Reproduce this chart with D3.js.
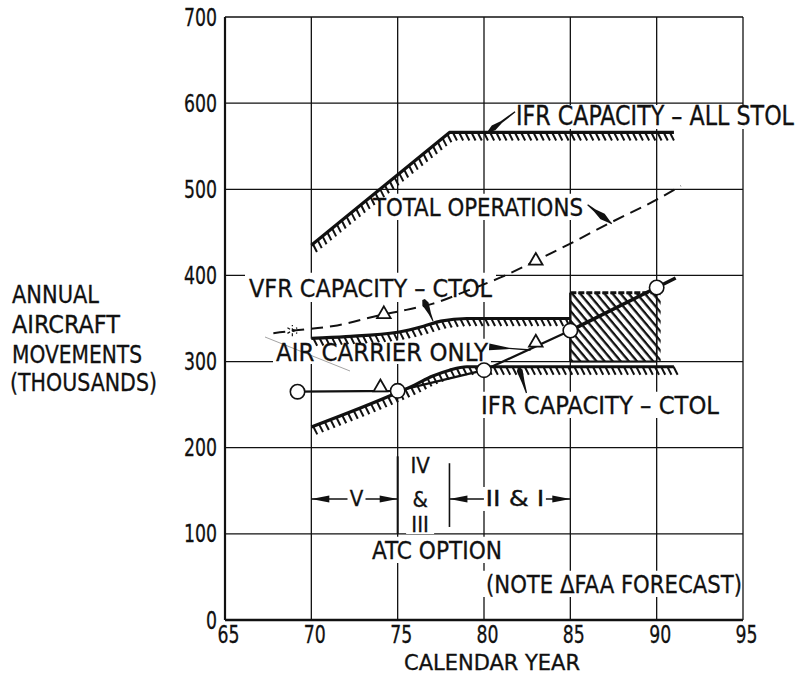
<!DOCTYPE html>
<html>
<head>
<meta charset="utf-8">
<script src="https://cdn.jsdelivr.net/npm/d3@7"></script>
<style>
html, body { margin: 0; padding: 0; background: #fff; }
svg { display: block; }
text { font-family: 'Liberation Sans Narrow', 'DejaVu Sans Condensed', 'Arial Narrow', sans-serif; fill: #111; stroke: #111; stroke-width: 0.3; }
</style>
</head>
<body>
<svg width="806" height="676"></svg>
<script>
// ---- data ----
var xTicks = [65, 70, 75, 80, 85, 90, 95];
var yTicks = [0, 100, 200, 300, 400, 500, 600, 700];

var ifrStolYears  = [70, 78, 91];
var ifrStolValues = [435, 566, 566];

var totalOpsYears  = [67.8, 69, 71.5, 74, 75.5, 77, 79, 81, 83, 85, 87.3, 90, 91.4];
var totalOpsValues = [333, 336, 342, 354, 360, 367, 382, 398, 417, 437, 461, 488, 504];

var vfrYears  = [70, 72, 75, 76.5, 77.5, 79, 85];
var vfrValues = [327, 329, 334, 341, 347, 350, 350];

var ifrCtolYears  = [70, 75, 76, 77, 78, 79, 91];
var ifrCtolValues = [224, 264, 273, 283, 290, 294, 294];

var boxYears  = [85, 90];
var boxValues = [300, 380];

var airCarrierYears  = [69.2, 75, 80, 85, 90, 91.1];
var airCarrierValues = [265, 266, 290, 336, 386, 397];
var airCarrierCircles = 5;

var faaYears  = [74, 83, 74.2, 83];
var faaValues = [270, 322, 355, 417];

var starYears = [68.9];
var starValues = [336];

var atcYears = [70, 75, 78, 85];

// ---- setup ----
var svg = d3.select("svg");
var x = d3.scaleLinear().domain([65, 95]).range([225, 743]);
var y = d3.scaleLinear().domain([0, 700]).range([620, 17]);

var gGrid = svg.append("g");
var gKnock = svg.append("g");
var gData = svg.append("g");
var gText = svg.append("g");

// grid
gGrid.selectAll(".vg").data(xTicks).join("line")
  .attr("x1", function(d) { return x(d); }).attr("x2", function(d) { return x(d); })
  .attr("y1", y(0)).attr("y2", y(700))
  .attr("stroke", "#111").attr("stroke-width", function(d) { return d == 65 ? 2.2 : 1.3; });
gGrid.selectAll(".hg").data(yTicks).join("line")
  .attr("x1", x(65)).attr("x2", x(95))
  .attr("y1", function(d) { return y(d); }).attr("y2", function(d) { return y(d); })
  .attr("stroke", "#111").attr("stroke-width", function(d) { return d == 0 ? 2.4 : 1.3; });

// axes labels
var xAxis = d3.axisBottom(x).tickValues(xTicks).tickSize(0).tickPadding(6);
var gx = svg.append("g").attr("transform", "translate(0," + y(0) + ")").call(xAxis);
gx.select(".domain").remove();
gx.selectAll("text").attr("font-size", 24).attr("dx", 3)
  .attr("textLength", function(d) { return String(d).length * 11; }).attr("lengthAdjust", "spacingAndGlyphs")
  .style("font-family", "'Liberation Sans Narrow','DejaVu Sans Condensed',sans-serif").attr("fill", "#111");

var yAxis = d3.axisLeft(y).tickValues(yTicks).tickSize(0).tickPadding(8);
var gy = svg.append("g").attr("transform", "translate(" + x(65) + ",0)").call(yAxis);
gy.select(".domain").remove();
gy.selectAll("text").attr("font-size", 25)
  .attr("textLength", function(d) { return String(d).length * 11; }).attr("lengthAdjust", "spacingAndGlyphs")
  .style("font-family", "'Liberation Sans Narrow','DejaVu Sans Condensed',sans-serif").attr("fill", "#111");

// ---- helpers ----
function pts(xs, vs) { return xs.map(function(d, i) { return [x(d), y(vs[i])]; }); }

function hatchLine(g, p, curve, spacing, len) {
  var path = g.append("path")
    .attr("d", d3.line().curve(curve)(p))
    .attr("fill", "none").attr("stroke", "#111").attr("stroke-width", 3.2)
    .attr("stroke-linejoin", "round");
  var node = path.node(), L = node.getTotalLength(), ticks = [];
  for (var s = 2; s < L; s += spacing) {
    var q = node.getPointAtLength(s);
    ticks.push([q.x, q.y]);
  }
  g.append("g").selectAll("line").data(ticks).join("line")
    .attr("x1", function(d) { return d[0]; }).attr("y1", function(d) { return d[1]; })
    .attr("x2", function(d) { return d[0] + 0.45 * len; }).attr("y2", function(d) { return d[1] + 0.89 * len; })
    .attr("stroke", "#111").attr("stroke-width", 2);
}

function taper(p0, p1, widths) {
  var dx = p1[0] - p0[0], dy = p1[1] - p0[1], L = Math.hypot(dx, dy);
  var nx = -dy / L, ny = dx / L;
  var a = widths.map(function(w) { return [p0[0] + dx * w[0] + nx * w[1], p0[1] + dy * w[0] + ny * w[1]]; });
  var b = widths.slice().reverse().map(function(w) { return [p0[0] + dx * w[0] - nx * w[1], p0[1] + dy * w[0] - ny * w[1]]; });
  return d3.line()(a.concat(b)) + "Z";
}

function label(t, x0, yb, w, size, pad) {
  var el = gText.append("text").attr("x", x0).attr("y", yb).attr("font-size", size)
    .attr("textLength", w).attr("lengthAdjust", "spacingAndGlyphs").text(t);
  if (pad) {
    var top = yb - size * 0.73;
    gKnock.append("rect")
      .attr("x", x0 - pad[0]).attr("y", top - pad[2])
      .attr("width", w + pad[0] + pad[1]).attr("height", (yb - top) + pad[2] + pad[3])
      .attr("fill", "#fff");
  }
  return el;
}

// ---- box hatch pattern ----
var defs = svg.append("defs");
var pat = defs.append("pattern").attr("id", "diag").attr("patternUnits", "userSpaceOnUse")
  .attr("width", 6.2).attr("height", 6.2).attr("patternTransform", "rotate(-40)");
pat.append("line").attr("x1", 1.5).attr("y1", 0).attr("x2", 1.5).attr("y2", 6.2)
  .attr("stroke", "#111").attr("stroke-width", 2.3);

var bx0 = x(boxYears[0]), bx1 = x(boxYears[1]), by0 = y(boxValues[1]), by1 = y(boxValues[0]);
gData.append("rect")
  .attr("x", bx0).attr("y", by0)
  .attr("width", bx1 - bx0 + 4).attr("height", by1 - by0)
  .attr("fill", "url(#diag)");
gData.append("line").attr("x1", bx0).attr("x2", bx1 + 3)
  .attr("y1", by0).attr("y2", by0)
  .attr("stroke", "#111").attr("stroke-width", 3).attr("stroke-dasharray", "6,2");
gData.append("line").attr("x1", bx0).attr("x2", bx0)
  .attr("y1", by0).attr("y2", by1)
  .attr("stroke", "#111").attr("stroke-width", 2.4);
gData.append("line").attr("x1", bx1).attr("x2", bx1)
  .attr("y1", by0).attr("y2", by1)
  .attr("stroke", "#111").attr("stroke-width", 1.5);
gData.append("line").attr("x1", bx0).attr("x2", bx1)
  .attr("y1", by1).attr("y2", by1)
  .attr("stroke", "#111").attr("stroke-width", 2);

// ---- capacity lines ----
hatchLine(gData, pts(ifrStolYears, ifrStolValues), d3.curveLinear, 6.2, 9);
hatchLine(gData, pts(vfrYears, vfrValues), d3.curveMonotoneX, 6.2, 8.5);
hatchLine(gData, pts(ifrCtolYears, ifrCtolValues), d3.curveMonotoneX, 6.2, 9);

// ---- total operations (dashed) ----
gData.append("path")
  .attr("d", d3.line().curve(d3.curveMonotoneX)(pts(totalOpsYears, totalOpsValues)))
  .attr("fill", "none").attr("stroke", "#111").attr("stroke-width", 2)
  .attr("stroke-dasharray", "12,7");

// faint leader line
gData.append("line").attr("x1", 265).attr("y1", 337).attr("x2", 350).attr("y2", 371)
  .attr("stroke", "#999").attr("stroke-width", 0.9);

// ---- air carrier only ----
var acPts = pts(airCarrierYears, airCarrierValues);
gData.append("path").attr("d", d3.line()(acPts.slice(0, 4)))
  .attr("fill", "none").attr("stroke", "#111").attr("stroke-width", 2.2);
gData.append("path").attr("d", d3.line()(acPts.slice(3)))
  .attr("fill", "none").attr("stroke", "#111").attr("stroke-width", 3.6);
gData.selectAll(".ac").data(acPts.slice(0, airCarrierCircles)).join("circle")
  .attr("cx", function(d) { return d[0]; }).attr("cy", function(d) { return d[1]; })
  .attr("r", 7.2).attr("fill", "#fff").attr("stroke", "#111").attr("stroke-width", 1.6);

// FAA forecast triangles
gData.selectAll(".faa").data(pts(faaYears, faaValues)).join("path")
  .attr("transform", function(d) { return "translate(" + d[0] + "," + d[1] + ")"; })
  .attr("d", d3.symbol(d3.symbolTriangle, 80)())
  .attr("fill", "#fff").attr("stroke", "#111").attr("stroke-width", 1.8);

// asterisk
gData.selectAll(".star").data(pts(starYears, starValues)).join("path")
  .attr("transform", function(d) { return "translate(" + d[0] + "," + d[1] + ")"; })
  .attr("d", d3.symbol(d3.symbolAsterisk, 90)())
  .attr("fill", "none").attr("stroke", "#111").attr("stroke-width", 1.2)
  .attr("stroke-dasharray", "3,2");

// ---- leader arrows ----
var arrows = [
  { a: [81.8, 590], b: [80.2, 566], w: [[0, 0.7], [0.5, 1.1], [0.78, 3], [1, 0.4]] },
  { a: [86.0, 482], b: [87.4, 460], w: [[0, 0.6], [0.3, 1.4], [0.62, 3.4], [0.9, 1], [1, 0.5]] },
  { a: [76.5, 372], b: [77.05, 347], w: [[0, 1.4], [0.2, 3.4], [0.65, 1.3], [1, 0.5]] },
  { a: [80.3, 317], b: [82.7, 313.5], w: [[0, 3.4], [0.42, 1], [0.48, 0.7], [1, 0.7]] },
  { a: [82.0, 294], b: [82.46, 263.5], w: [[0, 0.6], [0.15, 3], [0.6, 1.4], [1, 0.6]] }
];
gData.selectAll(".arr").data(arrows).join("path")
  .attr("d", function(d) { return taper([x(d.a[0]), y(d.a[1])], [x(d.b[0]), y(d.b[1])], d.w); })
  .attr("fill", "#111");

// ---- ATC option bands ----
var atcY = y(140.5);
function head(tipX, dir) {
  var l = 18, h = 3.5;
  return d3.line()([[tipX, atcY], [tipX - dir * l, atcY - h], [tipX - dir * l, atcY + h]]) + "Z";
}
gData.append("line").attr("x1", x(atcYears[0])).attr("x2", x(atcYears[1])).attr("y1", atcY).attr("y2", atcY)
  .attr("stroke", "#111").attr("stroke-width", 1.6);
gData.append("line").attr("x1", x(atcYears[2])).attr("x2", x(atcYears[3])).attr("y1", atcY).attr("y2", atcY)
  .attr("stroke", "#111").attr("stroke-width", 1.6);
gData.append("path").attr("d", head(x(atcYears[0]), -1)).attr("fill", "#111");
gData.append("path").attr("d", head(x(atcYears[1]), 1)).attr("fill", "#111");
gData.append("path").attr("d", head(x(atcYears[2]), -1)).attr("fill", "#111");
gData.append("path").attr("d", head(x(atcYears[3]), 1)).attr("fill", "#111");
gData.append("line").attr("x1", x(atcYears[1])).attr("x2", x(atcYears[1])).attr("y1", y(190)).attr("y2", y(100))
  .attr("stroke", "#111").attr("stroke-width", 2);
gData.append("line").attr("x1", x(atcYears[2])).attr("x2", x(atcYears[2])).attr("y1", y(182)).attr("y2", y(108))
  .attr("stroke", "#111").attr("stroke-width", 1.6);

// ---- text ----
label("IFR CAPACITY \u2013 ALL STOL", 516, 125, 278, 26, [3, 3, 1, 4]);
label("TOTAL OPERATIONS", 373, 216, 210, 25, [3, 3, 4, 4]);
label("VFR CAPACITY \u2013 CTOL", 249, 297, 243, 25, [4, 4, 6, 5]);
label("AIR CARRIER ONLY", 276, 361, 212, 25, [3, 3, 4, 3]);
label("IFR CAPACITY \u2013 CTOL", 481, 414, 238, 25, [3, 3, 4, 4]);
label("ATC OPTION", 372, 559, 130, 25, [3, 3, 4, 4]);
label("(NOTE \u0394FAA FORECAST)", 486, 593, 256, 25, [3, 0, 4, 4]);
label("CALENDAR YEAR", 404, 670, 176, 22, null);

label("ANNUAL", 12, 303, 87, 25, null);
label("AIRCRAFT", 12, 333, 108, 25, null);
label("MOVEMENTS", 12, 363, 130, 25, null);
label("(THOUSANDS)", 10, 391, 147, 25, null);

var vMid = x(72.5) + 2, iMid = x(81.5) + 5;
gKnock.append("rect").attr("x", vMid - 10).attr("y", atcY - 12).attr("width", 20).attr("height", 24).attr("fill", "#fff");
gKnock.append("rect").attr("x", iMid - 32).attr("y", atcY - 12).attr("width", 64).attr("height", 24).attr("fill", "#fff");
gData.append("rect").attr("x", vMid - 9).attr("y", atcY - 10).attr("width", 18).attr("height", 20).attr("fill", "#fff");
gData.append("rect").attr("x", iMid - 31).attr("y", atcY - 10).attr("width", 62).attr("height", 20).attr("fill", "#fff");
gText.append("text").attr("x", vMid).attr("y", 506).attr("font-size", 22).attr("text-anchor", "middle").text("V");
gText.append("text").attr("x", iMid).attr("y", 506).attr("font-size", 22).attr("text-anchor", "middle")
  .attr("textLength", 59).attr("lengthAdjust", "spacingAndGlyphs").text("II & I");
var stackX = x(76.3);
gKnock.append("rect").attr("x", stackX - 14).attr("y", 452).attr("width", 28).attr("height", 82).attr("fill", "#fff");
gText.append("text").attr("x", stackX).attr("y", 473).attr("font-size", 22).attr("text-anchor", "middle").text("IV");
gText.append("text").attr("x", stackX).attr("y", 507).attr("font-size", 22).attr("text-anchor", "middle").text("&");
gText.append("text").attr("x", stackX).attr("y", 532).attr("font-size", 22).attr("text-anchor", "middle").text("III");
</script>
</body>
</html>
